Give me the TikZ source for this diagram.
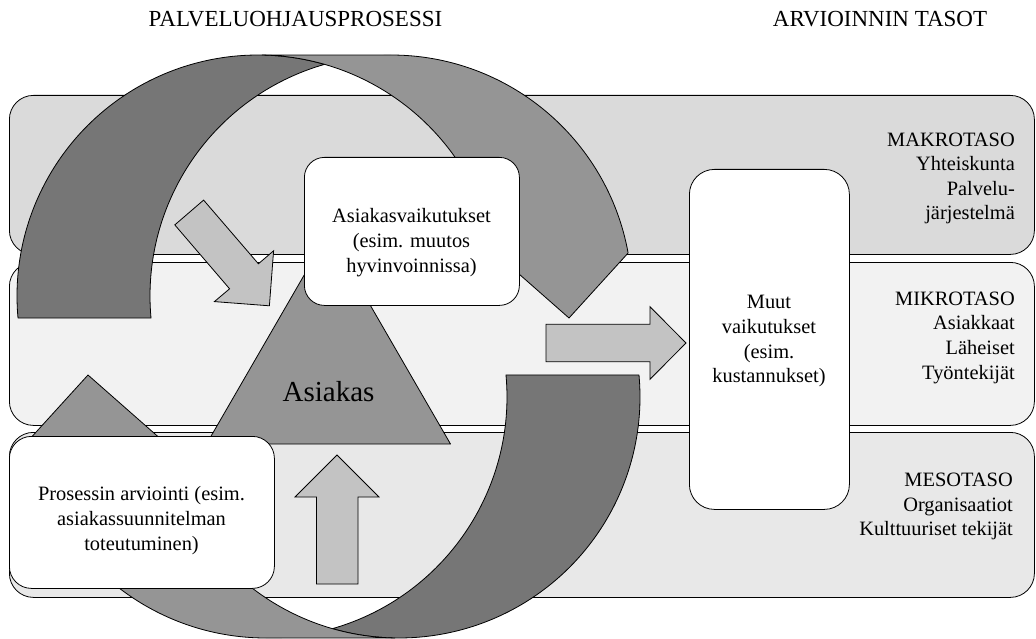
\documentclass[tikz,border=0pt]{standalone}
\usepackage{fontspec}
\setmainfont{Liberation Serif}
\usepackage{xcolor}

\definecolor{makrogray}{HTML}{DADADA}
\definecolor{mikrogray}{HTML}{F2F2F2}
\definecolor{mesogray}{HTML}{E8E8E8}
\definecolor{darkarc}{HTML}{767676}
\definecolor{lightarc}{HTML}{959595}
\definecolor{blockgray}{HTML}{C3C3C3}

\tikzset{
	band/.style={draw, line width=0.8pt, rounded corners=24pt, anchor=north west, minimum width=1025pt, inner sep=0pt},
	whitebox/.style={draw, fill=white, line width=0.8pt, anchor=north west, inner sep=0pt},
	swirl/.style={draw, line width=0.8pt, line join=round},
	blockarrow/.style={draw, fill=blockgray, line width=0.8pt},
	boxtext/.style={font=\fontsize{20.4}{24.6}\selectfont, align=center, inner sep=0pt},
	leveltext/.style={font=\fontsize{20.4}{24.6}\selectfont, align=right, anchor=east, inner sep=0pt},
	headtext/.style={font=\fontsize{23}{27}\selectfont, anchor=base, inner sep=0pt}
}

\begin{document}
\begin{tikzpicture}[x=1pt,y=-1pt]
	\useasboundingbox (0,0) rectangle (1036,639);

	% headings
	\node[headtext] (prosessi) at (295.5,26.7) {PALVELUOHJAUSPROSESSI};
	\node[headtext] (tasot) at (880,26.7) {ARVIOINNIN TASOT};

	% levels
	\node[band, fill=makrogray, minimum height=159pt] (makro) at (9,95) {};
	\node[band, fill=mikrogray, minimum height=163pt] (mikro) at (9,262) {};
	\node[band, fill=mesogray, minimum height=165pt] (meso) at (9,432) {};

	\node[leveltext] (makrotxt) at (1015,178.4) {MAKROTASO\\Yhteiskunta\\Palvelu-\\järjestelmä};
	\node[leveltext] (mikrotxt) at (1015,337.7) {MIKROTASO\\Asiakkaat\\Läheiset\\Työntekijät};
	\node[leveltext] (mesotxt) at (1013,506.8) {MESOTASO\\Organisaatiot\\Kulttuuriset tekijät};

	% process swirl
	\foreach \turn in {0,180}{
		\begin{scope}[rotate around={\turn:(328.5,346.5)}]
			\draw[swirl, fill=darkarc] (18.01,318.01) arc[start angle=174.76, end angle=286.02, radius=241]
				arc[start angle=253.98, end angle=174.76, radius=241] -- cycle;
			\draw[swirl, fill=lightarc] (262.21,55.04) -- (391,55) arc[start angle=270, end angle=349.72, radius=241]
				-- (569,318) -- (495.13,252.99) arc[start angle=349.72, end angle=271, radius=241] -- cycle;
		\end{scope}
	}

	% client
	\draw[swirl, fill=lightarc] (206.5,444) -- (328.5,233) -- (450.5,444) -- cycle;
	\node[font=\fontsize{29}{34}\selectfont, anchor=base, inner sep=0pt] (asiakas) at (328.5,401.7) {Asiakas};

	% block arrows
	\draw[blockarrow] (203.6,200.1) -- (258.4,263.8) -- (273.6,250.8) -- (269.4,305.8) -- (214.4,301.6) -- (229.6,288.8) -- (174.8,224.9) -- cycle;
	\draw[blockarrow] (316.5,584) -- (316.5,497) -- (295,497) -- (337,455) -- (379,497) -- (358,497) -- (358,584) -- cycle;
	\draw[blockarrow] (546,324.3) -- (650,324.3) -- (650,306.7) -- (686,343) -- (650,379.3) -- (650,361.7) -- (546,361.7) -- cycle;

	% boxes
	\node[whitebox, rounded corners=20pt, minimum width=215pt, minimum height=148pt] (vaikbox) at (304,157) {};
	\node[boxtext] (vaiktxt) at (411.5,242.6) {Asiakasvaikutukset\\(esim. muutos\\hyvinvoinnissa)};
	\node[whitebox, rounded corners=25pt, minimum width=160pt, minimum height=340pt] (muutbox) at (689,169) {};
	\node[boxtext] (muuttxt) at (769,341.3) {Muut\\vaikutukset\\(esim.\\kustannukset)};
	\node[whitebox, rounded corners=22pt, minimum width=265pt, minimum height=152pt] (prosbox) at (9,436) {};
	\node[boxtext] (prostxt) at (141.5,520.5) {Prosessin arviointi (esim.\\asiakassuunnitelman\\toteutuminen)};
\end{tikzpicture}
\end{document}
